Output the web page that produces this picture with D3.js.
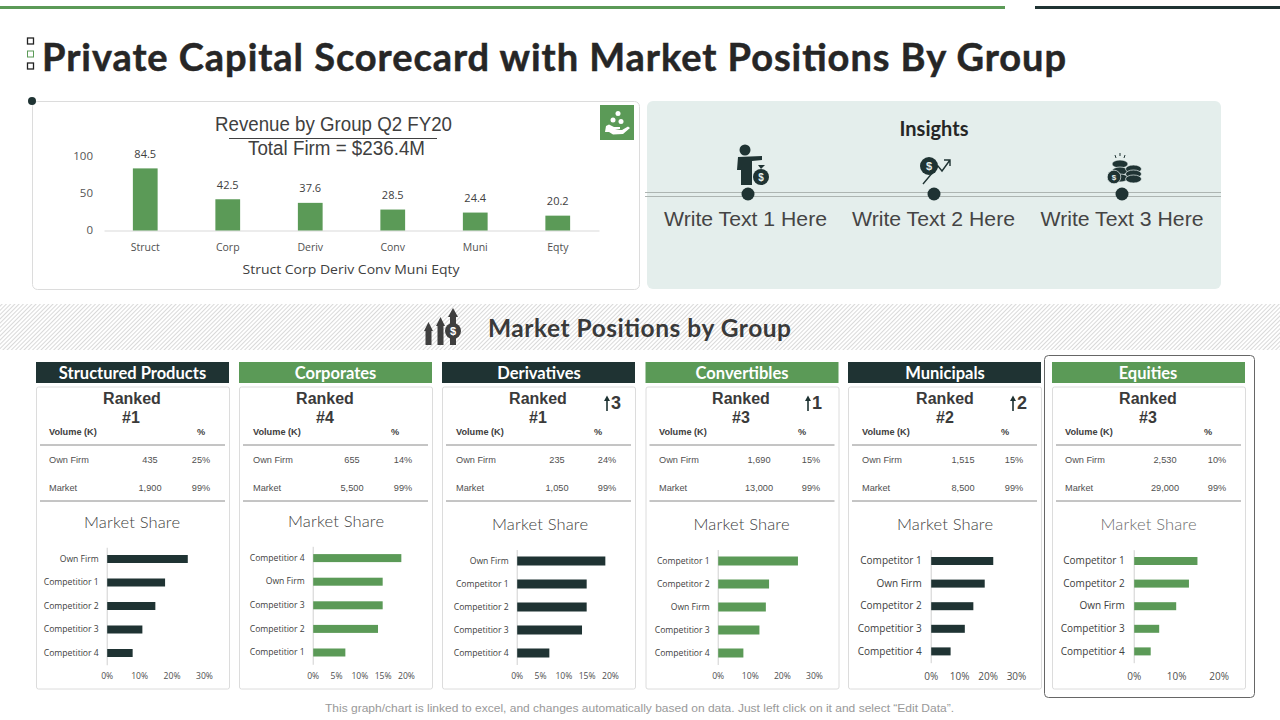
<!DOCTYPE html>
<html>
<head>
<meta charset="utf-8">
<script src="https://cdn.jsdelivr.net/npm/d3@7/dist/d3.min.js"></script>
<style>
  html, body { margin: 0; padding: 0; background: #fff; }
  svg { display: block; }
</style>
</head>
<body>
<svg id="chart" width="1280" height="720"></svg>
<script>
// Revenue chart
const revenueGroups = ['Struct', 'Corp', 'Deriv', 'Conv', 'Muni', 'Eqty'];
const revenueValues = [84.5, 42.5, 37.6, 28.5, 24.4, 20.2];
const revenueTicks = [0, 50, 100];

// Scorecard rows
const groupNames = ['Structured Products', 'Corporates', 'Derivatives', 'Convertibles', 'Municipals', 'Equities'];
const groupRanks = ['#1', '#4', '#1', '#3', '#2', '#3'];
const rankMoves = ['', '', '3', '1', '2', ''];
const ownFirmVolumes = ['435', '655', '235', '1,690', '1,515', '2,530'];
const ownFirmPercents = ['25%', '14%', '24%', '15%', '15%', '10%'];
const marketVolumes = ['1,900', '5,500', '1,050', '13,000', '8,500', '29,000'];
const marketPercents = ['99%', '99%', '99%', '99%', '99%', '99%'];

// Market share bars, one list per group
const shareLabels = [
  ['Own Firm', 'Competitior 1', 'Competitior 2', 'Competitior 3', 'Competitior 4'],
  ['Competitior 4', 'Own Firm', 'Competitior 3', 'Competitior 2', 'Competitior 1'],
  ['Own Firm', 'Competitor 1', 'Competitior 2', 'Competitior 3', 'Competitior 4'],
  ['Competitor 1', 'Competitor 2', 'Own Firm', 'Competitior 3', 'Competitior 4'],
  ['Competitor 1', 'Own Firm', 'Competitor 2', 'Competitior 3', 'Competitior 4'],
  ['Competitor 1', 'Competitor 2', 'Own Firm', 'Competitior 3', 'Competitior 4'],
];
const shareValues = [
  [25, 18, 15, 11, 8],
  [19, 15, 15, 14, 7],
  [19, 15, 15, 14, 7],
  [25, 16, 15, 13, 8],
  [22, 19, 15, 12, 7],
  [15, 13, 10, 6, 4],
];
const shareTicks = [
  [0, 10, 20, 30],
  [0, 5, 10, 15, 20],
  [0, 5, 10, 15, 20],
  [0, 10, 20, 30],
  [0, 10, 20, 30],
  [0, 10, 20],
];

const insightTexts = ['Write Text 1 Here', 'Write Text 2 Here', 'Write Text 3 Here'];

// Layout, kept apart from the data
const DARK = '#1f3333';
const GREEN = '#5b9a57';
const SERIF_LESS = '"Liberation Sans", Arial, sans-serif';
const GEOMETRIC = 'Lato, "Open Sans", sans-serif';
const LABEL = '"Open Sans", "Noto Sans", sans-serif';

const panelLayout = [
  { left: 36, tx: 49, rank: 132, num: 131, vol: 150, pctHead: 201, pct: 201, ms: 132, msY: 522, x0: 106.7, x1: 204, top: 547.25, step: 23.5, bar: 8, font: 8.6, pad: 8 },
  { left: 239, tx: 253, rank: 325, num: 325, vol: 352, pctHead: 395, pct: 403, ms: 336, msY: 521.5, x0: 312.7, x1: 406, top: 546.3, step: 23.6, bar: 8, font: 8.6, pad: 8 },
  { left: 442, tx: 456, rank: 538, num: 538, vol: 557, pctHead: 598, pct: 607, ms: 540, msY: 524.5, x0: 516.7, x1: 610, top: 549.5, step: 23, bar: 9, font: 8.6, pad: 8 },
  { left: 645.5, tx: 659, rank: 741, num: 741, vol: 759, pctHead: 802, pct: 811, ms: 741.5, msY: 524.5, x0: 717.7, x1: 814, top: 549.5, step: 23, bar: 9, font: 8.6, pad: 8 },
  { left: 848, tx: 862, rank: 945, num: 945, vol: 963, pctHead: 1005, pct: 1014, ms: 945, msY: 524.5, x0: 930.7, x1: 1016, top: 549.7, step: 22.6, bar: 8, font: 10, pad: 9 },
  { left: 1052, tx: 1065, rank: 1148, num: 1148, vol: 1165, pctHead: 1208, pct: 1217, ms: 1148.5, msY: 524.5, x0: 1133.7, x1: 1218.7, top: 549.7, step: 22.6, bar: 8, font: 10, pad: 9 },
];
const arrowX = [0, 0, 607, 808, 1013, 0];
const headerCenters = [132.5, 335.5, 539, 742, 945, 1148];
const insightCenters = [745.5, 933.5, 1122];
const insightDots = [748, 934, 1122];

const svg = d3.select('#chart');

const label = (g, x, y, text, size, opts = {}) =>
  g
    .append('text')
    .attr('x', x)
    .attr('y', y)
    .attr('dy', '0.35em')
    .attr('text-anchor', opts.anchor || 'middle')
    .attr('font-family', opts.family || SERIF_LESS)
    .attr('font-size', size)
    .attr('font-weight', opts.weight || 400)
    .attr('fill', opts.fill || '#404040')
    .text(text);

// Hatch for the section band
svg
  .append('defs')
  .append('pattern')
  .attr('id', 'hatch')
  .attr('width', 3)
  .attr('height', 3)
  .attr('patternUnits', 'userSpaceOnUse')
  .attr('patternTransform', 'rotate(-45)')
  .call((p) => p.append('rect').attr('width', 3).attr('height', 3).attr('fill', '#fff'))
  .call((p) => p.append('rect').attr('width', 3).attr('height', 1).attr('fill', '#d9d9d9'));

// Top rules
svg.append('rect').attr('x', 0).attr('y', 6).attr('width', 1005).attr('height', 3).attr('fill', GREEN);
svg.append('rect').attr('x', 1035).attr('y', 6).attr('width', 245).attr('height', 3).attr('fill', DARK);

// Title and its three little squares
[41, 54, 66].forEach((y, i) => {
  svg
    .append('rect')
    .attr('x', 27.5)
    .attr('y', y - 3)
    .attr('width', 6)
    .attr('height', 6)
    .attr('fill', 'none')
    .attr('stroke', i === 1 ? GREEN : '#222')
    .attr('stroke-width', i === 1 ? 1 : 1.3);
});
label(svg, 42, 58, 'Private Capital Scorecard with Market Positions By Group', 38, {
  anchor: 'start',
  family: GEOMETRIC,
  weight: 700,
  fill: '#262626',
})
  .attr('stroke', '#262626')
  .attr('stroke-width', 0.5)
  .attr('textLength', 1024)
  .attr('lengthAdjust', 'spacing');

// Revenue card
svg
  .append('rect')
  .attr('x', 32.5)
  .attr('y', 101.5)
  .attr('width', 607)
  .attr('height', 188)
  .attr('rx', 5)
  .attr('fill', '#fff')
  .attr('stroke', '#dcdcdc');
svg.append('circle').attr('cx', 32).attr('cy', 101).attr('r', 4).attr('fill', DARK);

label(svg, 333.5, 124, 'Revenue by Group Q2 FY20', 20)
  .attr('textLength', 237)
  .attr('lengthAdjust', 'spacingAndGlyphs');
svg.append('line').attr('x1', 229).attr('x2', 437).attr('y1', 138.5).attr('y2', 138.5).attr('stroke', '#404040');
label(svg, 336.5, 148, 'Total Firm = $236.4M', 20)
  .attr('textLength', 177)
  .attr('lengthAdjust', 'spacingAndGlyphs');

const revX = d3.scaleBand().domain(revenueGroups).range([104, 599]).paddingInner(0.7).paddingOuter(0.35);
const revY = d3.scaleLinear().domain([0, 100]).range([230.5, 157]);

svg
  .append('g')
  .attr('transform', 'translate(97,-1)')
  .call(d3.axisLeft(revY).tickValues(revenueTicks).tickSize(0).tickPadding(4))
  .call((g) => g.select('.domain').remove())
  .call((g) => g.selectAll('text').attr('font-family', LABEL).attr('font-size', 11.5).attr('fill', '#555'));

svg
  .append('g')
  .attr('transform', 'translate(0,230.5)')
  .call(d3.axisBottom(revX).tickSize(0).tickPadding(13.5))
  .call((g) => g.select('.domain').attr('stroke', '#d9d9d9'))
  .call((g) => g.selectAll('text').attr('font-family', LABEL).attr('font-size', 10.5).attr('fill', '#505050'));

svg
  .append('g')
  .selectAll('rect')
  .data(revenueValues)
  .join('rect')
  .attr('x', (d, i) => revX(revenueGroups[i]))
  .attr('y', (d) => revY(d))
  .attr('width', revX.bandwidth())
  .attr('height', (d) => revY(0) - revY(d))
  .attr('fill', GREEN);

svg
  .append('g')
  .selectAll('text')
  .data(revenueValues)
  .join('text')
  .attr('x', (d, i) => revX(revenueGroups[i]) + revX.bandwidth() / 2)
  .attr('y', (d) => revY(d) - 14.5)
  .attr('dy', '0.35em')
  .attr('text-anchor', 'middle')
  .attr('font-family', LABEL)
  .attr('font-size', 11)
  .attr('fill', '#404040')
  .text((d) => d.toFixed(1));

label(svg, 351, 269, revenueGroups.join(' '), 13, { family: LABEL, fill: '#404040' })
  .attr('textLength', 217)
  .attr('lengthAdjust', 'spacingAndGlyphs');

// Hand with coins icon
const handIcon = svg.append('g').attr('transform', 'translate(600,105)');
handIcon.append('rect').attr('width', 34).attr('height', 35).attr('fill', GREEN);
[[18, 8.5], [13, 15], [21, 16.5]].forEach(([cx, cy]) => {
  handIcon.append('circle').attr('cx', cx).attr('cy', cy).attr('r', 2.5).attr('fill', '#fff');
});
handIcon
  .append('path')
  .attr('d', 'M6,21 L9,19.5 L14,22 L20,22 L20,24 L15,25 L22,25 L28,21.5 L30,23 L23,29 L13,29.5 L9,27 L5,27 Z')
  .attr('fill', '#fff');

// Insights panel
svg
  .append('rect')
  .attr('x', 647)
  .attr('y', 101)
  .attr('width', 574)
  .attr('height', 188)
  .attr('rx', 6)
  .attr('fill', '#e4eeec');
label(svg, 934, 129, 'Insights', 20, { family: GEOMETRIC, weight: 700, fill: '#262626' });
[192.5, 196.5].forEach((y) => {
  svg.append('line').attr('x1', 645).attr('x2', 1221).attr('y1', y).attr('y2', y).attr('stroke', '#adb5b2');
});
insightDots.forEach((x) => {
  svg.append('circle').attr('cx', x).attr('cy', 194).attr('r', 6.5).attr('fill', DARK);
});
insightTexts.forEach((t, i) => {
  label(svg, insightCenters[i], 219, t, 21, { fill: '#444' })
    .attr('textLength', 163)
    .attr('lengthAdjust', 'spacingAndGlyphs');
});

const dollar = (g, x, y, size, fill) =>
  label(g, x, y, '$', size, { weight: 700, fill });

// Businessman with money bag
const manIcon = svg.append('g').attr('fill', DARK);
manIcon.append('circle').attr('cx', 745).attr('cy', 150).attr('r', 5.5);
manIcon.append('path').attr('d', 'M738,157 L762,156 L762,160 L752,161 L752,185 L741,185 L741,170 L737,170 Z');
manIcon.append('path').attr('d', 'M761,169 L765,165 L758,165 Z');
manIcon.append('circle').attr('cx', 761).attr('cy', 177).attr('r', 8);
dollar(manIcon, 761, 177, 10, '#e4eeec');

// Coin with rising arrow
const growIcon = svg.append('g');
growIcon.append('circle').attr('cx', 929).attr('cy', 166).attr('r', 9).attr('fill', DARK);
dollar(growIcon, 929, 166, 11, '#e4eeec');
growIcon
  .append('path')
  .attr('d', 'M923,184 L938,166 L942,171 L950,160 M944,160 L950,160 L950,166')
  .attr('fill', 'none')
  .attr('stroke', DARK)
  .attr('stroke-width', 1.4);

// Coin stacks
const stackIcon = svg.append('g').attr('fill', DARK);
[[1120, 164], [1120, 171], [1120, 178], [1133.5, 169], [1133.5, 174], [1133.5, 179]].forEach(([cx, cy]) => {
  stackIcon.append('ellipse').attr('cx', cx).attr('cy', cy).attr('rx', 8).attr('ry', 4).attr('stroke', '#e4eeec').attr('stroke-width', 0.7);
});
stackIcon.append('circle').attr('cx', 1114).attr('cy', 177).attr('r', 6.8).attr('stroke', '#e4eeec').attr('stroke-width', 0.7);
dollar(stackIcon, 1114, 177, 8, '#e4eeec');
stackIcon
  .append('path')
  .attr('d', 'M1115,155 L1116,158 M1120,153 L1120,156 M1125,155 L1124,158')
  .attr('stroke', DARK);

// Section band
svg.append('rect').attr('x', 0).attr('y', 304).attr('width', 1280).attr('height', 46).attr('fill', 'url(#hatch)');
label(svg, 488, 328, 'Market Positions by Group', 24.5, {
  anchor: 'start',
  family: GEOMETRIC,
  weight: 700,
  fill: '#3a3a3a',
}).attr('textLength', 303);

const bandIcon = svg.append('g').attr('fill', '#3f3f3f');
bandIcon.append('path').attr('d', 'M424,331 L428.5,322 L433,331 L431.5,331 L431.5,345 L425.5,345 L425.5,331 Z');
bandIcon.append('path').attr('d', 'M436,326 L440.5,317 L445,326 L443.5,326 L443.5,345 L437.5,345 L437.5,326 Z');
bandIcon.append('path').attr('d', 'M448,317 L453,308 L458,317 L456,317 L456,345 L450,345 L450,317 Z');
bandIcon.append('circle').attr('cx', 453).attr('cy', 331).attr('r', 8);
dollar(bandIcon, 453, 331, 11, '#fff');

// Highlight around Equities
svg
  .append('rect')
  .attr('x', 1044.5)
  .attr('y', 355.5)
  .attr('width', 210)
  .attr('height', 342)
  .attr('rx', 4)
  .attr('fill', 'none')
  .attr('stroke', '#666');

// Scorecards
groupNames.forEach((name, i) => {
  const p = panelLayout[i];
  const color = i % 2 === 0 ? DARK : GREEN;
  const panel = svg.append('g');
  const right = p.left + 193;

  panel.append('rect').attr('x', p.left).attr('y', 362).attr('width', 193).attr('height', 21).attr('fill', i === 5 ? GREEN : color);
  label(panel, headerCenters[i], 373, name, 16.5, { family: GEOMETRIC, weight: 700, fill: '#fff' });
  panel
    .append('rect')
    .attr('x', p.left + 0.5)
    .attr('y', 387)
    .attr('width', 193)
    .attr('height', 302)
    .attr('rx', 2)
    .attr('fill', '#fff')
    .attr('stroke', '#dcdcdc');

  label(panel, p.rank, 398, 'Ranked', 16, { weight: 700, fill: '#3a3a3a' });
  label(panel, p.num, 417, groupRanks[i], 16, { weight: 700, fill: '#3a3a3a' });

  if (rankMoves[i]) {
    const ax = arrowX[i];
    panel
      .append('path')
      .attr('d', `M${ax - 3},401 L${ax},395.5 L${ax + 3},401 L${ax + 0.8},401 L${ax + 0.8},411 L${ax - 0.8},411 L${ax - 0.8},401 Z`)
      .attr('fill', DARK);
    label(panel, ax + 4, 403, rankMoves[i], 18, { anchor: 'start', weight: 700, fill: '#3a3a3a' });
  }

  label(panel, p.tx, 431.5, 'Volume (K)', 9.2, { anchor: 'start', weight: 700, fill: '#404040' });
  label(panel, p.pctHead, 431.5, '%', 9.2, { weight: 700, fill: '#404040' });
  [445, 501].forEach((y) => {
    panel
      .append('line')
      .attr('x1', p.left + 4)
      .attr('x2', right - 4)
      .attr('y1', y)
      .attr('y2', y)
      .attr('stroke', '#8a8a8a');
  });
  label(panel, p.tx, 459.5, 'Own Firm', 9.2, { anchor: 'start', fill: '#505050' });
  label(panel, p.vol, 459.5, ownFirmVolumes[i], 9.2, { fill: '#505050' });
  label(panel, p.pct, 459.5, ownFirmPercents[i], 9.2, { fill: '#505050' });
  label(panel, p.tx, 487.5, 'Market', 9.2, { anchor: 'start', fill: '#505050' });
  label(panel, p.vol, 487.5, marketVolumes[i], 9.2, { fill: '#505050' });
  label(panel, p.pct, 487.5, marketPercents[i], 9.2, { fill: '#505050' });

  label(panel, p.ms, p.msY, 'Market Share', 16.5, {
    family: GEOMETRIC,
    weight: 300,
    fill: i === 5 ? '#6b6b6b' : '#404040',
  }).attr('textLength', 96);

  const ticks = shareTicks[i];
  const x = d3.scaleLinear().domain([0, ticks[ticks.length - 1]]).range([p.x0, p.x1]);
  const inner = 1 - p.bar / p.step;
  const y = d3
    .scaleBand()
    .domain(shareLabels[i])
    .range([p.top, p.top + p.step * 5])
    .paddingInner(inner)
    .paddingOuter(inner / 2);

  panel
    .append('g')
    .attr('transform', `translate(${p.x0},0)`)
    .call(d3.axisLeft(y).tickSize(0).tickPadding(p.pad))
    .call((g) => g.select('.domain').attr('stroke', '#d0d0d0'))
    .call((g) => g.selectAll('text').attr('font-family', LABEL).attr('font-size', p.font).attr('fill', '#404040'));

  panel
    .append('g')
    .attr('transform', 'translate(0,676)')
    .call(d3.axisBottom(x).tickValues(ticks).tickSize(0).tickFormat((d) => `${d}%`))
    .call((g) => g.select('.domain').remove())
    .call((g) =>
      g
        .selectAll('text')
        .attr('y', 0)
        .attr('dy', '0.35em')
        .attr('font-family', LABEL)
        .attr('font-size', p.font)
        .attr('fill', '#505050')
    );

  panel
    .append('g')
    .selectAll('rect')
    .data(shareValues[i])
    .join('rect')
    .attr('x', p.x0 + 0.5)
    .attr('y', (d, j) => y(shareLabels[i][j]))
    .attr('width', (d) => x(d) - p.x0 - 0.5)
    .attr('height', y.bandwidth())
    .attr('fill', color);
});

label(
  svg,
  639.5,
  708,
  'This graph/chart is linked to excel, and changes automatically based on data. Just left click on it and select “Edit Data”.',
  11.5,
  { fill: '#999' }
)
  .attr('textLength', 629)
  .attr('lengthAdjust', 'spacingAndGlyphs');
</script>
</body>
</html>
